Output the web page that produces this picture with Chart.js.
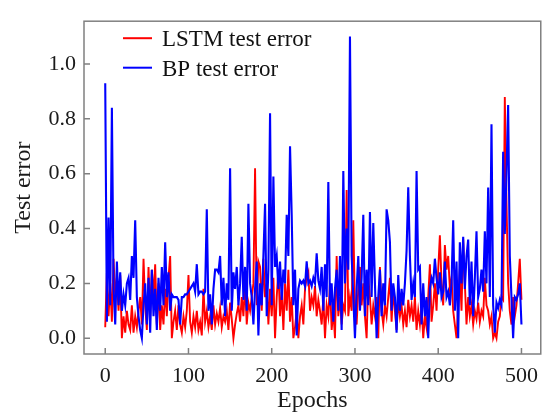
<!DOCTYPE html>
<html><head><meta charset="utf-8">
<script src="https://cdn.jsdelivr.net/npm/chart.js@4/dist/chart.umd.min.js"></script>
<style>html,body{margin:0;padding:0;background:#fff;}canvas{display:block;}</style>
</head><body>
<canvas id="c" width="547" height="414"></canvas>
<script>
const epochs = Array.from({length: 251}, (_, i) => i * 2);

const lstmError = [
  0.04,0.24,0.08,0.20,0.06,0.29,0.15,0.22,0.10,0.23,
  0.00,0.08,0.02,0.10,0.05,0.03,0.12,0.02,0.08,0.04,
  0.10,0.15,0.05,0.29,0.12,0.03,0.26,0.08,0.25,0.15,
  0.27,0.05,0.20,0.03,0.12,0.05,0.18,0.08,0.22,0.30,
  0.00,0.06,0.10,0.03,0.12,0.05,0.02,0.08,0.04,0.10,
  0.23,0.06,0.02,0.08,0.04,0.10,0.03,0.06,0.01,0.18,
  0.06,0.10,0.04,0.08,0.03,0.12,0.05,0.09,0.06,0.11,
  0.04,0.08,0.06,0.10,0.03,0.13,0.07,0.00,0.05,0.09,
  0.12,0.06,0.15,0.08,0.20,0.05,0.13,0.10,0.15,0.20,
  0.62,0.12,0.28,0.26,0.10,0.29,0.15,0.20,0.05,0.18,
  0.08,0.22,0.00,0.15,0.25,0.08,0.17,0.03,0.20,0.10,
  0.25,0.06,0.15,0.00,0.04,0.10,0.00,0.08,0.12,0.05,
  0.18,0.22,0.24,0.10,0.15,0.12,0.19,0.08,0.14,0.10,
  0.05,0.15,0.00,0.12,0.08,0.20,0.03,0.10,0.00,0.30,
  0.08,0.15,0.05,0.12,0.10,0.54,0.08,0.15,0.10,0.43,
  0.10,0.05,0.18,0.26,0.12,0.20,0.08,0.00,0.22,0.15,
  0.05,0.12,0.08,0.15,0.00,0.26,0.10,0.05,0.12,0.08,
  0.15,0.22,0.06,0.18,0.10,0.03,0.14,0.08,0.12,0.05,
  0.10,0.04,0.14,0.08,0.12,0.06,0.15,0.03,0.10,0.05,
  0.12,0.00,0.08,0.04,0.15,0.27,0.06,0.12,0.20,0.10,
  0.25,0.375,0.20,0.12,0.34,0.25,0.30,0.18,0.22,0.10,
  0.05,0.00,0.12,0.25,0.10,0.36,0.20,0.05,0.15,0.08,
  0.12,0.05,0.10,0.07,0.13,0.06,0.10,0.08,0.22,0.12,
  0.10,0.05,0.08,0.00,0.02,0.00,0.06,0.08,0.15,0.14,
  0.88,0.50,0.20,0.10,0.05,0.15,0.08,0.12,0.20,0.29,0.14
];

const bpError = [
  0.93,0.06,0.44,0.12,0.84,0.18,0.05,0.28,0.12,0.24,
  0.10,0.16,0.12,0.20,0.22,0.14,0.30,0.22,0.43,0.15,
  0.08,0.03,0.00,0.12,0.20,0.05,0.22,0.02,0.25,0.08,
  0.18,0.03,0.22,0.10,0.26,0.12,0.35,0.15,0.24,0.10,
  0.16,0.15,0.15,0.15,0.14,0.05,0.15,0.15,0.16,0.16,
  0.17,0.18,0.19,0.20,0.17,0.27,0.16,0.17,0.17,0.16,
  0.17,0.47,0.10,0.16,0.05,0.18,0.25,0.25,0.24,0.30,
  0.12,0.22,0.08,0.20,0.14,0.62,0.10,0.24,0.18,0.26,
  0.12,0.20,0.37,0.14,0.26,0.10,0.49,0.20,0.15,0.05,
  0.18,0.28,0.01,0.20,0.12,0.30,0.49,0.08,0.25,0.82,
  0.12,0.59,0.26,0.30,0.18,0.28,0.14,0.25,0.20,0.45,
  0.30,0.70,0.45,0.12,0.25,0.01,0.18,0.21,0.20,0.21,
  0.19,0.28,0.20,0.21,0.19,0.22,0.20,0.31,0.21,0.18,
  0.26,0.10,0.27,0.15,0.57,0.12,0.20,0.06,0.18,0.25,
  0.10,0.30,0.03,0.61,0.20,0.40,0.25,1.10,0.30,0.15,
  0.00,0.18,0.30,0.10,0.22,0.45,0.08,0.25,0.12,0.46,
  0.15,0.42,0.20,0.00,0.15,0.25,0.08,0.20,0.12,0.47,
  0.43,0.35,0.10,0.20,0.15,0.02,0.23,0.10,0.18,0.12,
  0.20,0.32,0.55,0.30,0.14,0.20,0.15,0.61,0.25,0.26,
  0.05,0.20,0.08,0.15,0.00,0.18,0.22,0.20,0.29,0.22,
  0.16,0.24,0.15,0.17,0.28,0.15,0.17,0.12,0.20,0.43,
  0.10,0.28,0.00,0.35,0.20,0.37,0.18,0.30,0.36,0.12,
  0.28,0.08,0.22,0.39,0.15,0.18,0.25,0.17,0.39,0.20,
  0.55,0.15,0.78,0.12,0.02,0.13,0.11,0.14,0.12,0.68,
  0.38,0.60,0.85,0.30,0.15,0.00,0.15,0.14,0.16,0.20,0.05
];

const xTicks = [0, 100, 200, 300, 400, 500];
const yTicks = [0.0, 0.2, 0.4, 0.6, 0.8, 1.0];
const seriesNames = ['LSTM test error', 'BP test error'];
const seriesColors = ['#ff0000', '#0000ff'];

const FONT = 'Liberation Serif, Times New Roman, serif';

const framePlugin = {
  id: 'frame',
  afterDatasetsDraw(chart) {
    const {ctx, chartArea: a, scales: {x, y}} = chart;
    ctx.save();
    ctx.strokeStyle = '#808080';
    ctx.lineWidth = 1.5;
    ctx.strokeRect(a.left, a.top, a.right - a.left, a.bottom - a.top);
    ctx.beginPath();
    x.ticks.forEach(t => { const p = x.getPixelForValue(t.value); ctx.moveTo(p, a.bottom); ctx.lineTo(p, a.bottom - 6); });
    y.ticks.forEach(t => { const p = y.getPixelForValue(t.value); ctx.moveTo(a.left, p); ctx.lineTo(a.left + 6, p); });
    ctx.stroke();
    // legend (inside plot, top-left)
    ctx.font = '23px ' + FONT;
    ctx.textBaseline = 'alphabetic';
    chart.data.datasets.forEach((d, i) => {
      const ly = a.top + 17 + i * 29.5;
      ctx.strokeStyle = d.borderColor;
      ctx.lineWidth = 2;
      ctx.beginPath(); ctx.moveTo(a.left + 39, ly); ctx.lineTo(a.left + 68, ly); ctx.stroke();
      ctx.fillStyle = '#111';
      ctx.fillText(d.label, a.left + 78, ly + 8);
    });
    ctx.restore();
  }
};

new Chart(document.getElementById('c'), {
  type: 'line',
  data: {
    datasets: [
      { label: seriesNames[0], data: epochs.map((e, i) => ({x: e, y: lstmError[i]})),
        borderColor: seriesColors[0], backgroundColor: seriesColors[0], borderWidth: 1.9,
        pointRadius: 0, tension: 0, fill: false, order: 1 },
      { label: seriesNames[1], data: epochs.map((e, i) => ({x: e, y: bpError[i]})),
        borderColor: seriesColors[1], backgroundColor: seriesColors[1], borderWidth: 2.1,
        pointRadius: 0, tension: 0, fill: false, order: 0 }
    ]
  },
  options: {
    responsive: false,
    animation: false,
    layout: { padding: { top: 10, right: 1, left: 0, bottom: 0 } },
    plugins: { legend: { display: false }, tooltip: { enabled: false } },
    scales: {
      x: {
        type: 'linear', min: -25.5, max: 523.2,
        afterBuildTicks: s => { s.ticks = xTicks.map(v => ({value: v})); },
        afterFit: s => { s.height = 60; },
        grid: { display: false, drawTicks: false },
        border: { display: false },
        ticks: { font: { family: FONT, size: 22 }, color: '#1a1a1a', padding: 9, maxRotation: 0, autoSkip: false },
        title: { display: true, text: 'Epochs', font: { family: FONT, size: 24 }, color: '#1a1a1a', padding: { top: 0, bottom: -1 } }
      },
      y: {
        type: 'linear', min: -0.0575, max: 1.156,
        afterBuildTicks: s => { s.ticks = yTicks.map(v => ({value: v})); },
        afterFit: s => { s.width = 84; },
        grid: { display: false, drawTicks: false },
        border: { display: false },
        ticks: { font: { family: FONT, size: 22 }, color: '#1a1a1a', padding: 8,
                 callback: v => Number(v).toFixed(1) },
        title: { display: true, text: 'Test error', font: { family: FONT, size: 24 }, color: '#1a1a1a', padding: { top: 9, bottom: 0 } }
      }
    }
  },
  plugins: [framePlugin]
});
</script>
</body></html>
